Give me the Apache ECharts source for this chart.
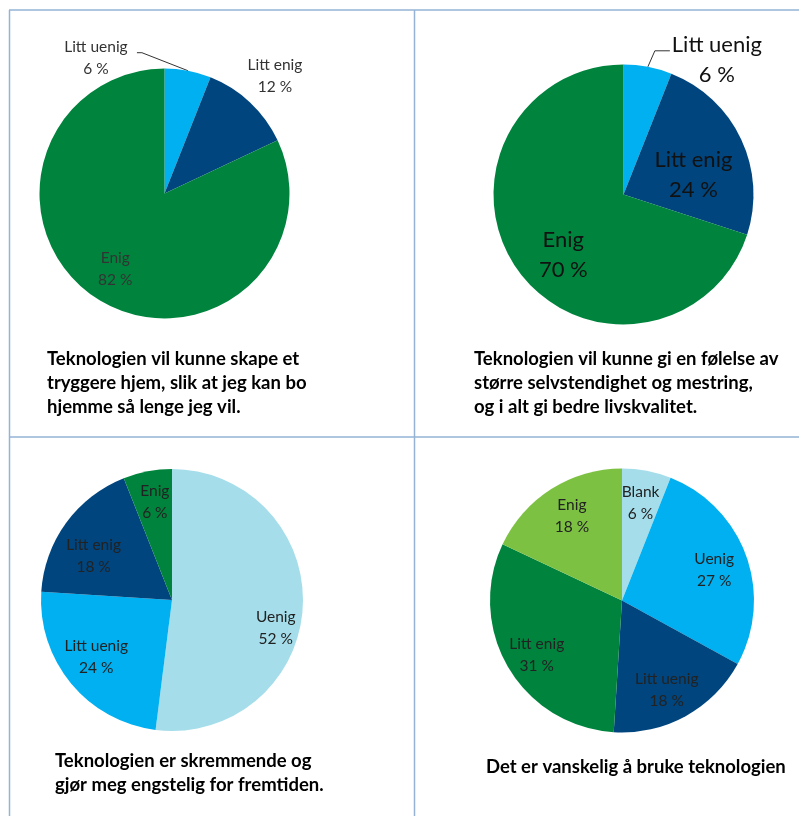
<!DOCTYPE html>
<html lang="no">
<head>
<meta charset="UTF-8">
<title>Holdninger til teknologi</title>
<script src="https://cdn.jsdelivr.net/npm/echarts@6/dist/echarts.min.js"></script>
</head>
<body style="margin:0;background:#fff;">
<div id="main" style="width:799px;height:816px;"></div>
<script>
// ---- data ----
let names1 = ['Litt uenig', 'Litt enig', 'Enig'];
let values1 = [6, 12, 82];
let names2 = ['Litt uenig', 'Litt enig', 'Enig'];
let values2 = [6, 24, 70];
let names3 = ['Uenig', 'Litt uenig', 'Litt enig', 'Enig'];
let values3 = [52, 24, 18, 6];
let names4 = ['Blank', 'Uenig', 'Litt uenig', 'Litt enig', 'Enig'];
let values4 = [6, 27, 18, 31, 18];
let titles = [
    'Teknologien vil kunne skape et\ntryggere hjem, slik at jeg kan bo\nhjemme så lenge jeg vil.',
    'Teknologien vil kunne gi en følelse av\nstørre selvstendighet og mestring,\nog i alt gi bedre livskvalitet.',
    'Teknologien er skremmende og\ngjør meg engstelig for fremtiden.',
    'Det er vanskelig å bruke teknologien'
];

// ---- style ----
const cyan = '#a5deea', light = '#00b0f0', navy = '#00457e', green = '#00843d', lime = '#7dc142';
const font = 'Lato, "Noto Sans", sans-serif';

// per pie: centre, radius, label font, label placement [radius ratio, dx, dy] (null = outside with leader line)
const pies = [
    {names: names1, values: values1, colors: [light, navy, green], center: [164.5, 193.5], r: 125,
     size: 15.5, lh: 22, ink: '#333', adj: [null, [1.29, 0, 0], [0.72, -1, 0]],
     leader: {label: [-92, -13], elbow: [-46, -18], end: [-51, -18]}},
    {names: names2, values: values2, colors: [light, navy, green], center: [623.5, 194.5], r: 130,
     size: 22, lh: 30, ink: '#111', adj: [null, [0.62, -3, 15], [0.62, 5, 13]],
     leader: {label: [69, -7], elbow: [7, -16], end: [22, -16]}},
    {names: names3, values: values3, colors: [cyan, light, navy, green], center: [172, 600], r: 131,
     size: 15.5, lh: 22, ink: '#222', adj: [[0.74, 7, 22], [0.74, -1, -5], [0.74, 0, 13], [0.74, 1, -3]]},
    {names: names4, values: values4, colors: [cyan, light, navy, green, lime], center: [622, 600.5], r: 132,
     size: 15.5, lh: 22, ink: '#222', adj: [[0.75, 0, 0], [0.75, -1, 3], [0.75, -3, 3], [0.75, 0, 4], [0.75, 3, -1]]}
];

function placeLabel(p) {
    const L = pies[p.seriesIndex];
    const a = L.adj[p.dataIndex];
    if (!a) {
        const e = p.labelLinePoints[0];
        const g = L.leader;
        return {
            x: e[0] + g.label[0], y: e[1] + g.label[1], align: 'center', verticalAlign: 'middle',
            labelLinePoints: [e, [e[0] + g.elbow[0], e[1] + g.elbow[1]], [e[0] + g.end[0], e[1] + g.end[1]]]
        };
    }
    const cx = p.labelRect.x + p.labelRect.width / 2 - L.center[0];
    const cy = p.labelRect.y + p.labelRect.height / 2 - L.center[1];
    const d = Math.sqrt(cx * cx + cy * cy) || 1;
    return {
        x: L.center[0] + cx / d * a[0] * L.r + a[1],
        y: L.center[1] + cy / d * a[0] * L.r + a[2]
    };
}

let series = pies.map(function (L) {
    return {
        type: 'pie',
        center: L.center,
        radius: L.r,
        startAngle: 90,
        clockwise: true,
        avoidLabelOverlap: false,
        emphasis: {disabled: true},
        data: L.values.map(function (v, i) {
            let item = {value: v, name: L.names[i], itemStyle: {color: L.colors[i]}};
            if (!L.adj[i]) {
                item.label = {position: 'outside'};
                item.labelLine = {show: true, length: 15, length2: 10};
            }
            return item;
        }),
        label: {
            show: true,
            position: 'inside',
            formatter: '{b}\n{c} %',
            fontFamily: font,
            fontSize: L.size,
            lineHeight: L.lh,
            color: L.ink
        },
        labelLine: {show: false, lineStyle: {color: '#333', width: 1}},
        labelLayout: placeLabel
    };
});

let titlePos = [[47, 347], [474, 347], [55, 749], [486, 755]];

let myChart = echarts.init(document.getElementById('main'));
let option = {
    backgroundColor: '#fff',
    animation: false,
    title: titles.map(function (t, i) {
        return {
            text: t, left: titlePos[i][0], top: titlePos[i][1], padding: 0,
            textStyle: {fontFamily: font, fontSize: 18.5, fontWeight: 'bold', lineHeight: 24, color: '#000'}
        };
    }),
    graphic: [
        {type: 'line', shape: {x1: 9, y1: 10, x2: 799, y2: 10}, style: {stroke: '#95b3d7', lineWidth: 1.5}},
        {type: 'line', shape: {x1: 9, y1: 437, x2: 799, y2: 437}, style: {stroke: '#95b3d7', lineWidth: 1.5}},
        {type: 'line', shape: {x1: 9.5, y1: 10, x2: 9.5, y2: 816}, style: {stroke: '#95b3d7', lineWidth: 1.5}},
        {type: 'line', shape: {x1: 414.5, y1: 10, x2: 414.5, y2: 816}, style: {stroke: '#95b3d7', lineWidth: 1.5}}
    ],
    series: series
};
myChart.setOption(option);
</script>
</body>
</html>
